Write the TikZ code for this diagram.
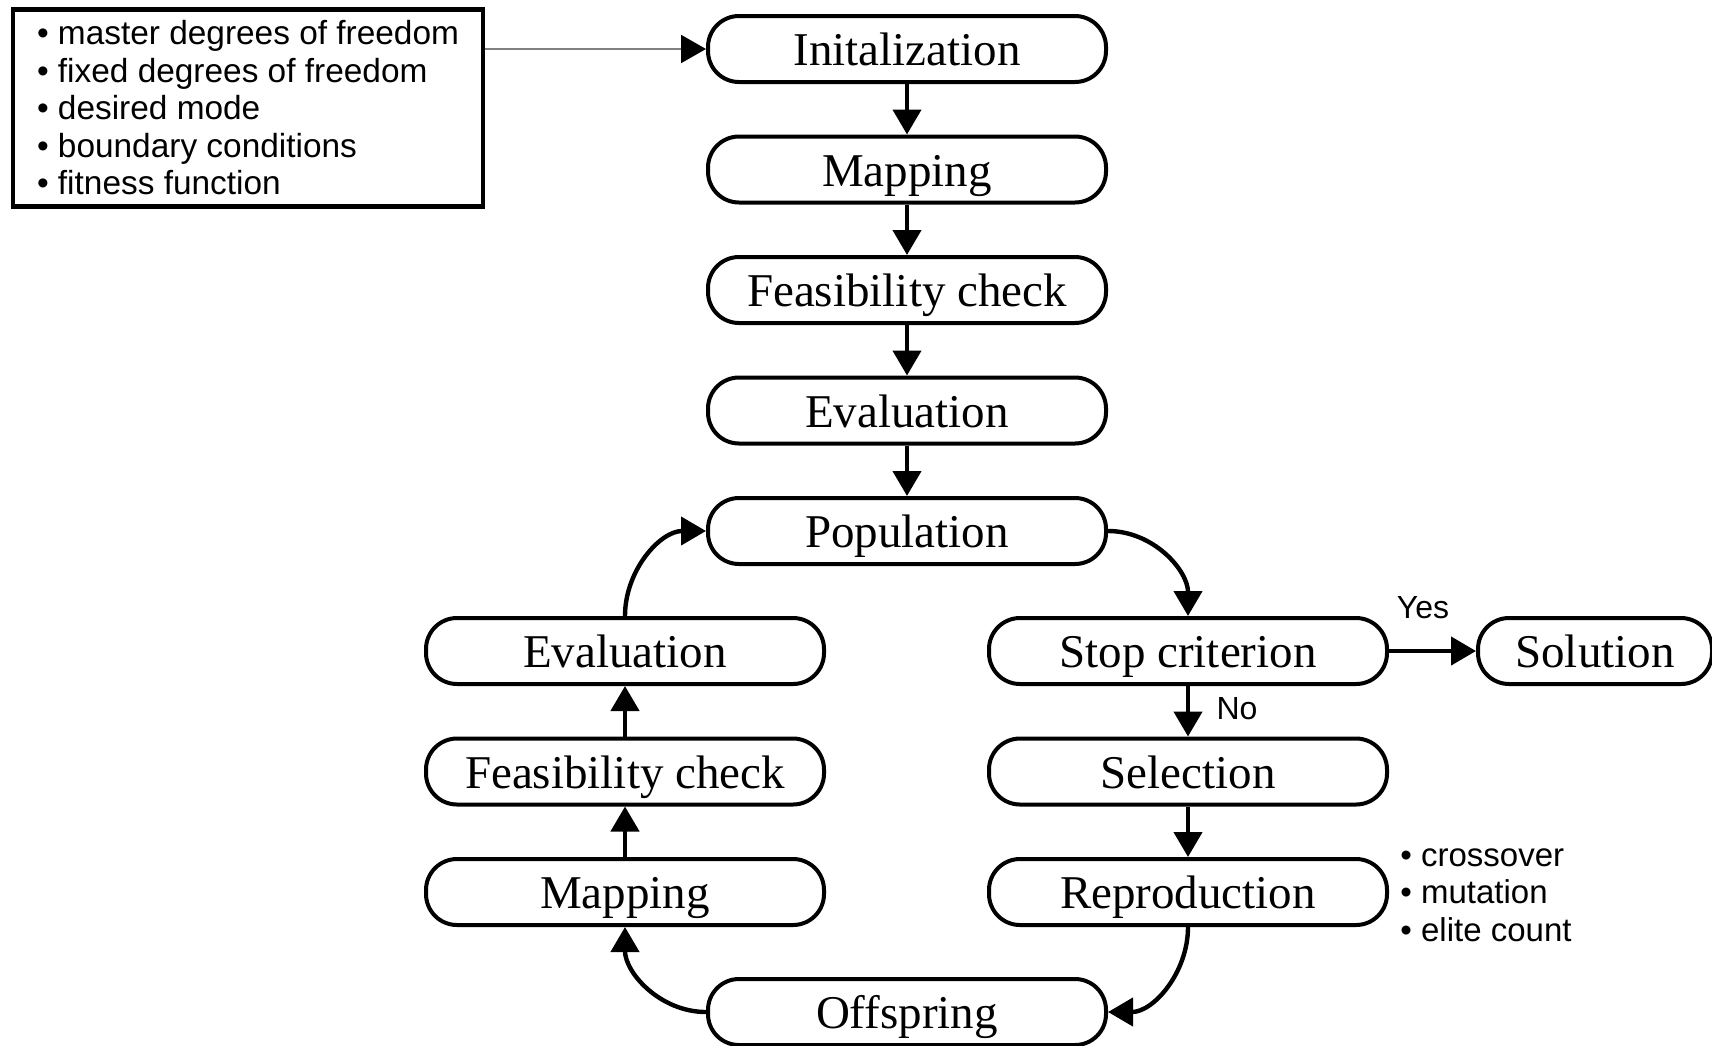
\documentclass[tikz,border=0pt]{standalone}
\usepackage{fontspec}
\setmainfont{Liberation Serif}
\setsansfont{Liberation Sans}
\usetikzlibrary{arrows.meta}

\begin{document}
\begin{tikzpicture}[x=0.5pt, y=-0.5pt,
  proc/.style={draw, line width=2pt, rounded corners=15.5pt,
    minimum width=199pt, minimum height=33pt, inner sep=0pt,
    text height=16.5pt, text depth=0pt,
    font=\fontsize{23.5}{28}\selectfont},
  flow/.style={line width=2.2pt, -{Triangle[length=12.5pt, width=14pt]}},
  note/.style={font=\sffamily\fontsize{16.5}{18.75}\selectfont, align=left, inner sep=0pt},
  tag/.style={font=\sffamily\fontsize{16}{18}\selectfont, inner sep=0pt},
]
\useasboundingbox (0,0) rectangle (1712,1045);

% input parameters
\node[draw, line width=2.2pt, minimum width=235pt, minimum height=98.5pt,
      inner xsep=8pt, align=left,
      font=\sffamily\fontsize{16.7}{18.75}\selectfont] (inputs) at (248,108)
  {• master degrees of freedom\\
   • fixed degrees of freedom\\
   • desired mode\\
   • boundary conditions\\
   • fitness function};

% main column
\node[proc] (init) at (907,49)    {Initalization};
\node[proc] (map1) at (907,169.5) {Mapping};
\node[proc] (feas1) at (907,290)  {Feasibility check};
\node[proc] (eval1) at (907,410.5){Evaluation};
\node[proc] (pop)  at (907,531)   {Population};
\node[proc] (off)  at (907,1012)  {Offspring};

% left loop column
\node[proc] (eval2) at (625,651)   {Evaluation};
\node[proc] (feas2) at (625,771.5) {Feasibility check};
\node[proc] (map2)  at (625,892)   {Mapping};

% right loop column
\node[proc] (stop)  at (1188,651)   {Stop criterion};
\node[proc] (sel)   at (1188,771.5) {Selection};
\node[proc] (repro) at (1188,892)   {Reproduction};
\node[proc, minimum width=117pt] (sol) at (1595,651) {Solution};

% labels
\node[tag] (yes) at (1423,608) {Yes};
\node[tag] (no)  at (1237,709) {No};
\node[note, anchor=west] (ops) at (1400,895)
  {• crossover\\
   • mutation\\
   • elite count};

% connectors
\draw[line width=1pt, gray, -{Triangle[length=12.5pt, width=14pt, color=black]}]
  (inputs.east |- init.west) -- (init.west);
\draw[flow] (init) -- (map1);
\draw[flow] (map1) -- (feas1);
\draw[flow] (feas1) -- (eval1);
\draw[flow] (eval1) -- (pop);
\draw[flow] (pop.east) to[out=0, in=90] (stop.north);
\draw[flow] (stop.east) -- (sol.west);
\draw[flow] (stop) -- (sel);
\draw[flow] (sel) -- (repro);
\draw[flow] (repro.south) to[out=-90, in=0] (off.east);
\draw[flow] (off.west) to[out=180, in=-90] (map2.south);
\draw[flow] (map2) -- (feas2);
\draw[flow] (feas2) -- (eval2);
\draw[flow] (eval2.north) to[out=90, in=180] (pop.west);
\end{tikzpicture}
\end{document}
